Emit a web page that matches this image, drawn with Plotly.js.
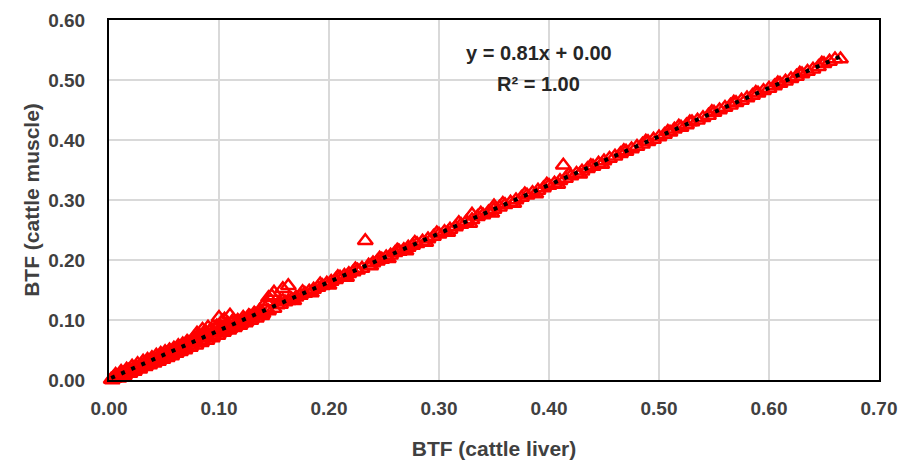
<!DOCTYPE html>
<html>
<head>
<meta charset="utf-8">
<script src="https://cdn.plot.ly/plotly-3.0.1.min.js"></script>
<style>html,body{margin:0;padding:0;background:#fff;}#chart{width:903px;height:468px;}</style>
</head>
<body>
<div id="chart"></div>
<script>
// BTF (cattle liver) vs BTF (cattle muscle)
const liverBTF = [
  0.002,0.004,0.005,0.007,0.008,0.010,0.012,0.013,0.015,0.017,0.018,0.020,0.022,0.024,0.025,0.027,0.029,0.030,0.032,0.034,
  0.036,0.038,0.040,0.042,0.044,0.046,0.048,0.050,0.052,0.054,0.056,0.058,0.060,0.062,0.064,0.066,0.068,0.070,0.072,0.075,
  0.078,0.080,0.083,0.085,0.088,0.090,0.093,0.095,0.098,0.100,0.103,0.105,0.108,0.110,0.113,0.115,0.118,0.120,0.123,0.125,
  0.128,0.130,0.133,0.135,0.138,0.140,0.143,0.145,0.148,0.150,
  0.100,0.105,0.110,0.150,0.158,0.163,0.145,0.090,0.085,0.080,
  0.003,0.006,0.009,0.011,0.014,0.016,0.019,0.021,0.023,0.026,0.028,0.031,0.033,0.035,0.037,0.039,0.041,0.043,0.045,0.047,
  0.049,0.051,0.053,0.055,0.057,0.059,0.061,0.063,0.065,0.067,0.069,0.071,0.074,0.077,0.079,0.082,0.084,0.087,0.089,0.092,
  0.094,0.097,0.099,0.102,0.104,0.107,0.109,0.112,0.114,0.117,0.119,0.122,0.124,0.127,0.129,0.132,0.134,0.137,0.139,0.142,
  0.153,0.156,0.160,0.163,0.166,0.170,0.174,0.178,0.182,0.186,0.190,0.194,0.198,0.202,0.206,0.210,0.214,0.218,0.222,0.226,
  0.230,0.233,0.236,0.240,0.244,0.248,0.252,0.256,0.260,0.264,0.268,0.272,0.276,0.280,0.285,0.290,0.295,0.300,0.305,0.310,
  0.315,0.320,0.325,0.330,0.335,0.340,0.345,0.350,0.355,0.360,0.365,0.370,0.375,0.380,0.385,0.390,0.395,0.400,0.405,0.410,
  0.413,0.415,0.420,0.425,0.430,0.435,0.440,0.445,0.450,0.263,0.350,0.330,
  0.158,0.168,0.176,0.184,0.192,0.200,0.208,0.216,0.224,0.238,0.246,0.254,0.262,0.270,0.278,0.288,0.298,0.308,0.318,0.328,
  0.338,0.348,0.358,0.368,0.378,0.388,0.398,0.408,0.418,0.428,0.438,0.448,
  0.455,0.460,0.465,0.470,0.475,0.480,0.485,0.490,0.495,0.500,0.505,0.510,0.514,0.520,0.525,0.530,0.535,0.540,0.545,0.550,
  0.555,0.560,0.565,0.570,0.575,0.580,0.585,0.590,0.595,0.600,0.605,0.610,0.615,0.620,0.625,0.630,0.635,0.640,0.645,0.650,
  0.655,0.660,0.665,
  0.468,0.488,0.508,0.518,0.528,0.548,0.568,0.588,0.608,0.628,0.648
];
const muscleBTF = [
  0.001,0.004,0.003,0.006,0.005,0.009,0.009,0.011,0.013,0.013,0.016,0.015,0.019,0.018,0.021,0.021,0.025,0.023,0.027,0.026,
  0.031,0.029,0.034,0.032,0.037,0.035,0.041,0.038,0.044,0.041,0.047,0.045,0.050,0.047,0.054,0.051,0.058,0.054,0.062,0.058,
  0.068,0.062,0.072,0.066,0.080,0.070,0.085,0.074,0.090,0.078,0.098,0.082,0.094,0.086,0.100,0.090,0.097,0.094,0.101,0.098,
  0.106,0.103,0.109,0.107,0.113,0.111,0.130,0.115,0.140,0.119,
  0.104,0.101,0.108,0.146,0.152,0.157,0.137,0.088,0.084,0.078,
  0.000,0.009,0.003,0.014,0.007,0.018,0.011,0.023,0.014,0.027,0.018,0.031,0.022,0.034,0.025,0.037,0.028,0.041,0.031,0.044,
  0.034,0.047,0.037,0.050,0.040,0.053,0.044,0.057,0.047,0.060,0.050,0.064,0.054,0.070,0.058,0.075,0.062,0.076,0.066,0.082,
  0.070,0.085,0.074,0.088,0.079,0.093,0.083,0.096,0.087,0.099,0.091,0.104,0.095,0.107,0.099,0.111,0.103,0.116,0.107,0.120,
  0.125,0.126,0.130,0.132,0.135,0.138,0.141,0.144,0.148,0.151,0.154,0.157,0.161,0.164,0.167,0.171,0.174,0.177,0.180,0.183,
  0.186,0.232,0.191,0.195,0.198,0.201,0.205,0.208,0.212,0.214,0.217,0.221,0.224,0.227,0.231,0.235,0.239,0.243,0.247,0.251,
  0.255,0.259,0.264,0.267,0.272,0.275,0.280,0.284,0.288,0.292,0.296,0.300,0.304,0.308,0.312,0.316,0.320,0.324,0.328,0.332,
  0.358,0.336,0.340,0.344,0.348,0.352,0.356,0.361,0.365,0.215,0.290,0.276,
  0.132,0.132,0.147,0.145,0.160,0.158,0.172,0.171,0.185,0.190,0.203,0.202,0.216,0.215,0.229,0.229,0.245,0.246,0.262,0.261,
  0.278,0.278,0.294,0.294,0.310,0.310,0.326,0.326,0.342,0.343,0.357,0.359,
  0.369,0.373,0.377,0.381,0.385,0.389,0.393,0.397,0.401,0.405,0.409,0.413,0.418,0.421,0.425,0.430,0.433,0.437,0.441,0.446,
  0.450,0.454,0.458,0.462,0.466,0.470,0.474,0.478,0.482,0.486,0.490,0.494,0.498,0.502,0.506,0.510,0.514,0.518,0.522,0.527,
  0.531,0.535,0.535,
  0.382,0.398,0.414,0.423,0.430,0.447,0.463,0.479,0.495,0.511,0.528
];
const xTickVals = [0,0.1,0.2,0.3,0.4,0.5,0.6,0.7];
const yTickVals = [0,0.1,0.2,0.3,0.4,0.5,0.6];
const eqText = "y = 0.81x + 0.00";
const r2Text = "R² = 1.00";

// least-squares trendline computed from data
const n = liverBTF.length;
let sx=0, sy=0, sxx=0, sxy=0;
for (let i=0;i<n;i++){ sx+=liverBTF[i]; sy+=muscleBTF[i]; sxx+=liverBTF[i]*liverBTF[i]; sxy+=liverBTF[i]*muscleBTF[i]; }
const slope = (n*sxy - sx*sy)/(n*sxx - sx*sx);
const icpt = (sy - slope*sx)/n;
const xmin = Math.min(...liverBTF), xmax = Math.max(...liverBTF);
const trendX = [xmin, xmax];
const trendY = trendX.map(v => slope*v + icpt);

const fontFam = "Liberation Sans, Arial, sans-serif";
const tickFont = {family: fontFam, size: 19, color: '#404040', weight: 'bold'};
const titleFont = {family: fontFam, size: 21, color: '#404040', weight: 'bold'};

Plotly.newPlot('chart', [
  {x: liverBTF, y: muscleBTF, type: 'scatter', mode: 'markers', cliponaxis: false,
   marker: {symbol: 'triangle-up-open', size: 13, color: '#ff0000', line: {width: 2.5, color: '#ff0000'}},
   showlegend: false},
  {x: trendX, y: trendY, type: 'scatter', mode: 'lines', cliponaxis: false,
   line: {color: '#000000', width: 4, dash: '4px,7px'}, showlegend: false}
], {
  width: 903, height: 468,
  margin: {l: 109, r: 24, t: 20, b: 88},
  paper_bgcolor: '#ffffff', plot_bgcolor: '#ffffff',
  xaxis: {range: [0, 0.7], tickvals: xTickVals, tickformat: '.2f', showgrid: true, gridcolor: '#d9d9d9', gridwidth: 1.5,
          zeroline: false, showline: true, mirror: true, linecolor: '#000000', linewidth: 2,
          ticks: 'outside', ticklen: 10, tickcolor: 'rgba(0,0,0,0)', tickfont: tickFont,
          title: {text: 'BTF (cattle liver)', font: titleFont, standoff: 24}},
  yaxis: {range: [0, 0.6], tickvals: yTickVals, tickformat: '.2f', showgrid: true, gridcolor: '#d9d9d9', gridwidth: 1.5,
          zeroline: false, showline: true, mirror: true, linecolor: '#000000', linewidth: 2,
          ticks: 'outside', ticklen: 18, tickcolor: 'rgba(0,0,0,0)', tickfont: tickFont,
          title: {text: 'BTF (cattle muscle)', font: titleFont, standoff: 3}},
  annotations: [
    {xref: 'paper', yref: 'paper', x: 0.558, y: 0.908, yanchor: 'middle', text: eqText, showarrow: false,
     font: {family: fontFam, size: 20, color: '#262626', weight: 'bold'}},
    {xref: 'paper', yref: 'paper', x: 0.558, y: 0.822, yanchor: 'middle', text: r2Text, showarrow: false,
     font: {family: fontFam, size: 20, color: '#262626', weight: 'bold'}}
  ]
}, {displayModeBar: false, staticPlot: true});
</script>
</body>
</html>
